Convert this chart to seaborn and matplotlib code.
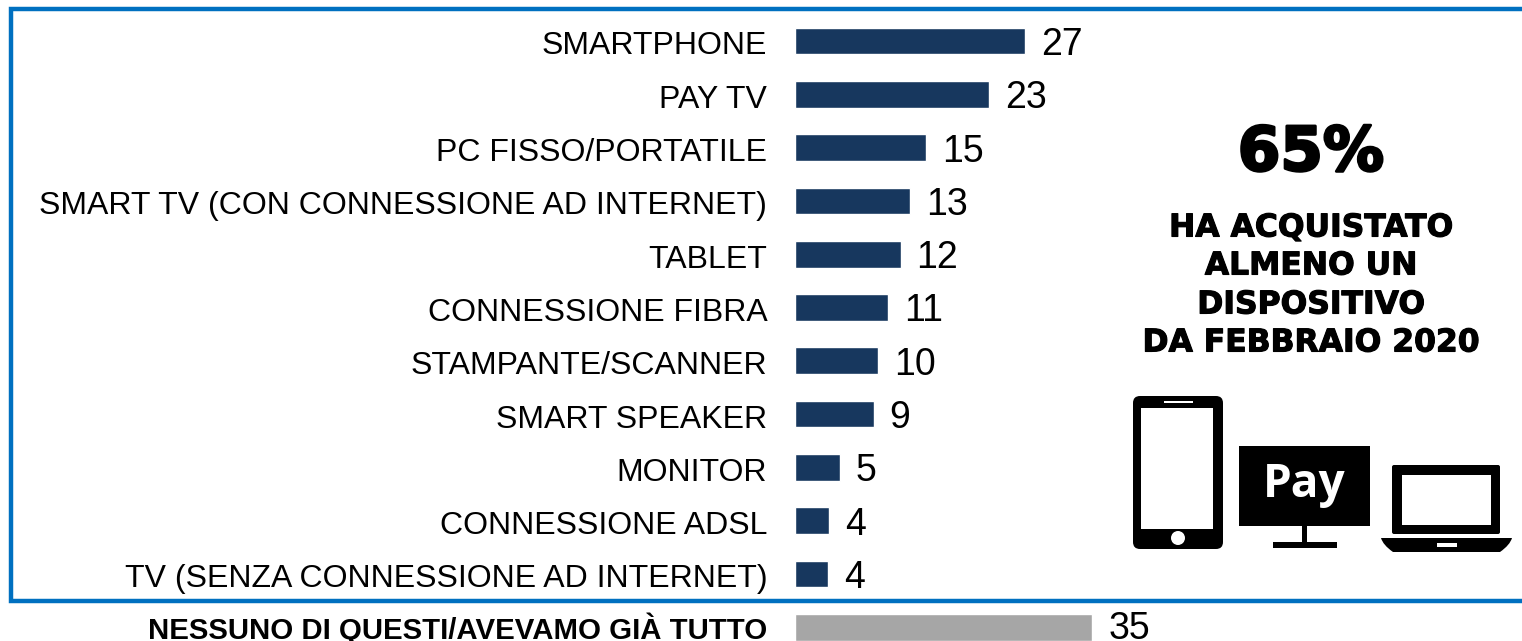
import matplotlib
matplotlib.use("Agg")
import matplotlib.pyplot as plt
import matplotlib.patheffects as pe
from matplotlib.patches import Rectangle, FancyBboxPatch, Circle, PathPatch
from matplotlib.path import Path
from matplotlib.transforms import ScaledTranslation
import seaborn as sns
import pandas as pd

categories = ["SMARTPHONE", "PAY TV", "PC FISSO/PORTATILE",
              "SMART TV (CON CONNESSIONE AD INTERNET)", "TABLET",
              "CONNESSIONE FIBRA", "STAMPANTE/SCANNER", "SMART SPEAKER",
              "MONITOR", "CONNESSIONE ADSL",
              "TV (SENZA CONNESSIONE AD INTERNET)",
              "NESSUNO DI QUESTI/AVEVAMO GIÀ TUTTO"]
bar_lengths = [27.1, 22.8, 15.4, 13.5, 12.4, 10.9, 9.7, 9.2, 5.2, 4.0, 3.8, 35.0]
shown_values = [27, 23, 15, 13, 12, 11, 10, 9, 5, 4, 4, 35]
groups = ["device"] * 11 + ["none"]
group_colors = {"device": "#17375E", "none": "#A6A6A6"}

W, H = 1522, 641
sns.set_theme(style="white")
plt.rcParams["font.family"] = ["Liberation Sans", "DejaVu Sans"]

fig = plt.figure(figsize=(W / 100, H / 100), dpi=100, facecolor="white")
left = 795.5
ax = fig.add_axes([left / W, 0, (W - left) / W, 1])
df = pd.DataFrame({"cat": categories, "val": bar_lengths, "grp": groups})
sns.barplot(data=df, x="val", y="cat", hue="grp", palette=group_colors, dodge=False,
            order=categories, orient="h", width=0.5, legend=False, ax=ax, saturation=1)

px_unit = 8.48
row = 53.3
ax.set_xlim(0, (W - left) / px_unit)
ax.set_ylim((H - 41) / row, -41 / row)
ax.set_xticks([])
ax.set_xlabel("")
ax.set_ylabel("")
ax.set_yticks(range(len(categories)))
ax.set_yticklabels(categories)
ax.tick_params(axis="y", length=0, pad=20.3, labelsize=23.05, labelcolor="black")
labels = ax.get_yticklabels()
labels[-1].set_fontweight("bold")
labels[-1].set_fontsize(21.15)
for lab in labels[:-1]:
    lab.set_transform(lab.get_transform() + ScaledTranslation(0, -2 / 100, fig.dpi_scale_trans))
labels[-1].set_transform(labels[-1].get_transform() + ScaledTranslation(0, 2 / 100, fig.dpi_scale_trans))
for s in ax.spines.values():
    s.set_visible(False)

for i, (v, s) in enumerate(zip(bar_lengths, shown_values)):
    lift = 2 if i == len(shown_values) - 1 else 0
    ax.annotate(str(s), (v, i), xytext=(11.5, lift), textcoords="offset points",
                va="center_baseline", ha="left", fontsize=27, color="black")

ov = fig.add_axes([0, 0, 1, 1], facecolor="none")
ov.set_xlim(0, W)
ov.set_ylim(H, 0)
ov.axis("off")

# blue frame, open on the right edge
ov.plot([W + 5, 10.5, 10.5, W + 5], [8.5, 8.5, 600.5, 600.5], color="#0070C0", lw=3.2,
        solid_joinstyle="miter", clip_on=True)

ov.text(1311, 154, "65%", ha="center", va="center", fontsize=44, fontweight="bold",
        family="DejaVu Sans", color="black",
        path_effects=[pe.withStroke(linewidth=2, foreground="black")])
for y, t in zip([228, 266, 305, 343],
                ["HA ACQUISTATO", "ALMENO UN", "DISPOSITIVO", "DA FEBBRAIO 2020"]):
    ov.text(1311, y, t, ha="center", va="center", fontsize=22.6, fontweight="bold",
            family="DejaVu Sans", color="black",
            path_effects=[pe.withStroke(linewidth=0.8, foreground="black")])


def rrect(x0, y0, x1, y1, r, fc):
    ov.add_patch(FancyBboxPatch((x0 + r, y0 + r), x1 - x0 - 2 * r, y1 - y0 - 2 * r,
                                boxstyle=f"round,pad={r},rounding_size={r}",
                                fc=fc, ec="none", lw=0))


# phone icon
rrect(1133, 396, 1223, 549, 7, "black")
ov.add_patch(Rectangle((1141, 408), 72, 121, fc="white", ec="none"))
ov.add_patch(Rectangle((1164, 401), 29, 2, fc="white", ec="none"))
ov.add_patch(Circle((1178, 538), 7, fc="white", ec="none"))

# pay tv icon
ov.add_patch(Rectangle((1239, 446), 131, 80, fc="black", ec="none"))
ov.add_patch(Rectangle((1302, 526), 5, 17, fc="black", ec="none"))
ov.add_patch(Rectangle((1273, 542), 64, 6, fc="black", ec="none"))
ov.text(1304, 484, "Pay", ha="center", va="center", fontsize=33, fontweight="bold",
        family="Open Sans", color="white")

# laptop icon
rrect(1392, 465, 1500, 534, 2, "black")
ov.add_patch(Rectangle((1402, 475), 89, 50, fc="white", ec="none"))
verts = [(1381, 538), (1512, 538), (1510, 545), (1500, 552), (1393, 552), (1383, 545), (1381, 538)]
codes = [Path.MOVETO, Path.LINETO, Path.CURVE3, Path.CURVE3, Path.LINETO, Path.CURVE3, Path.CURVE3]
ov.add_patch(PathPatch(Path(verts, codes), fc="black", ec="none"))
ov.add_patch(Rectangle((1437, 543), 20, 4, fc="white", ec="none"))

fig.savefig("out.png", dpi=100, facecolor="white")
